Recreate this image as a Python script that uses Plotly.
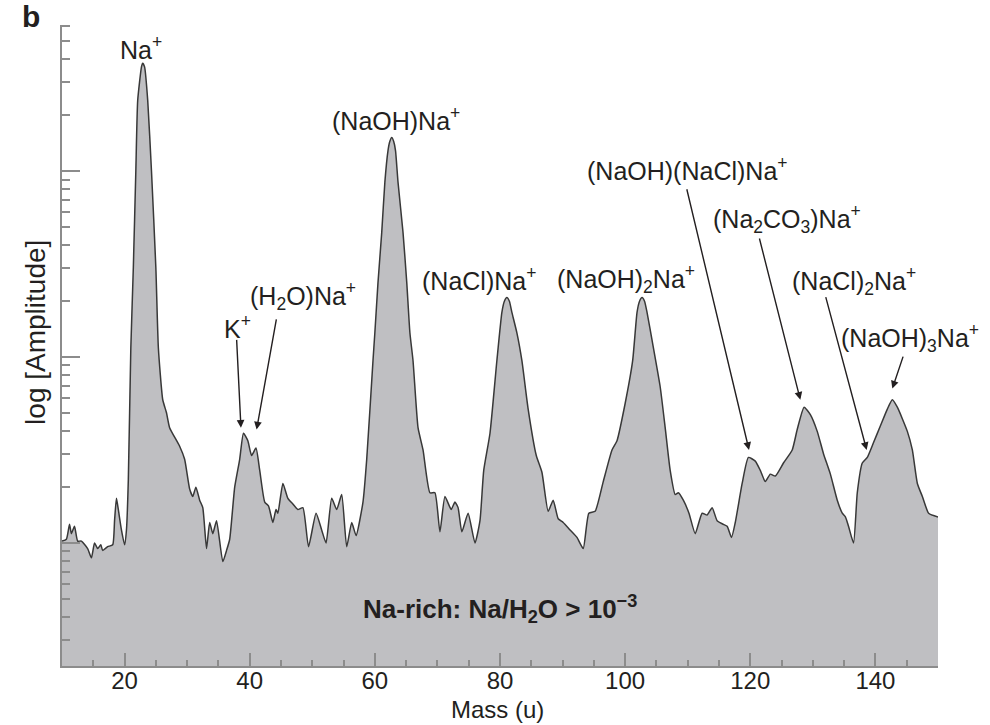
import numpy as np
import plotly.graph_objects as go

# ---------------- data ----------------
mass = [
    10.0, 10.7, 11.2, 11.5, 12.0, 12.5, 13.1, 14.1, 14.7, 15.2,
    15.7, 16.2, 16.5, 17.3, 18.1, 18.4, 18.7, 19.0, 19.5, 20.0,
    20.3, 20.6, 21.0, 21.4, 21.8, 22.1, 22.7, 22.9, 23.2, 23.7,
    24.3, 25.0, 25.4, 26.1, 26.7, 27.2, 28.8, 29.6, 30.4, 30.9,
    31.4, 32.0, 32.5, 33.1, 33.6, 34.1, 34.7, 35.7, 36.3, 36.8,
    37.6, 38.4, 39.0, 39.7, 40.3, 41.0, 41.6, 42.4, 43.0, 43.7,
    44.2, 44.5, 45.3, 46.1, 46.9, 47.7, 48.5, 49.4, 50.6, 51.5,
    52.2, 53.1, 53.9, 54.7, 55.5, 56.3, 57.0, 58.1, 58.7, 59.7,
    60.0, 60.5, 61.1, 61.6, 62.1, 62.4, 62.7, 63.0, 63.3, 63.7,
    64.5, 65.1, 65.6, 66.1, 66.9, 67.7, 68.8, 69.6, 70.4, 71.2,
    72.2, 72.8, 73.3, 73.9, 74.9, 76.0, 76.8, 77.4, 78.4, 79.5,
    80.3, 80.7, 81.1, 81.5, 81.9, 82.7, 83.5, 84.5, 85.8, 86.7,
    87.7, 88.5, 89.3, 90.1, 91.2, 92.3, 93.3, 94.2, 95.2, 96.5,
    97.9, 98.7, 100.0, 101.2, 101.9, 102.3, 102.7, 103.1, 103.5, 104.3,
    105.6, 106.4, 107.2, 108.0, 108.5, 109.3, 110.2, 111.2, 112.3, 113.1,
    113.9, 114.7, 115.7, 116.3, 117.0, 117.6, 118.7, 119.7, 120.8, 121.6,
    122.4, 123.2, 124.0, 125.3, 126.7, 127.5, 128.6, 129.6, 130.7, 131.7,
    132.8, 133.9, 134.7, 135.2, 135.7, 136.5, 137.1, 137.9, 138.7, 139.7,
    140.8, 141.9, 142.7, 143.5, 145.1, 145.9, 146.7, 147.5, 148.5, 150.0,
]

log_amplitude = [
    0.01, 0.02, 0.10, 0.05, 0.09, 0.01, 0.01, -0.03, -0.08, 0.00,
    -0.03, -0.01, -0.04, -0.02, -0.01, 0.12, 0.24, 0.18, 0.07, -0.01,
    0.07, 0.34, 1.05, 1.48, 2.00, 2.38, 2.56, 2.58, 2.56, 2.38,
    2.00, 1.48, 1.05, 0.77, 0.70, 0.62, 0.52, 0.45, 0.29, 0.25,
    0.30, 0.23, 0.19, -0.03, 0.11, 0.05, 0.12, -0.10, -0.04, 0.02,
    0.30, 0.45, 0.59, 0.55, 0.47, 0.51, 0.39, 0.22, 0.20, 0.11,
    0.18, 0.16, 0.32, 0.24, 0.21, 0.18, 0.19, -0.02, 0.16, 0.07,
    0.00, 0.24, 0.18, 0.26, -0.02, 0.11, 0.04, 0.22, 0.45, 0.98,
    1.13, 1.40, 1.67, 1.94, 2.11, 2.16, 2.18, 2.16, 2.11, 1.94,
    1.67, 1.40, 1.13, 0.98, 0.62, 0.50, 0.27, 0.27, 0.06, 0.25,
    0.18, 0.22, 0.19, 0.06, 0.16, 0.00, 0.12, 0.39, 0.59, 0.98,
    1.24, 1.30, 1.32, 1.30, 1.24, 1.13, 0.98, 0.72, 0.47, 0.38,
    0.17, 0.23, 0.13, 0.11, 0.07, 0.03, -0.03, 0.16, 0.17, 0.33,
    0.50, 0.55, 0.75, 0.98, 1.24, 1.30, 1.32, 1.30, 1.24, 1.09,
    0.84, 0.62, 0.39, 0.26, 0.27, 0.23, 0.16, 0.05, 0.16, 0.15,
    0.19, 0.12, 0.10, 0.09, 0.03, 0.11, 0.32, 0.46, 0.44, 0.39,
    0.33, 0.37, 0.36, 0.43, 0.50, 0.61, 0.73, 0.69, 0.60, 0.48,
    0.37, 0.23, 0.16, 0.14, 0.09, 0.00, 0.27, 0.43, 0.46, 0.54,
    0.63, 0.72, 0.77, 0.73, 0.60, 0.50, 0.32, 0.25, 0.16, 0.14,
]

x_tick_values = [20, 40, 60, 80, 100, 120, 140]
x_tick_labels = ["20", "40", "60", "80", "100", "120", "140"]

peak_labels = [
    "Na<sup>+</sup>",
    "K<sup>+</sup>",
    "(H<sub>2</sub>O)Na<sup>+</sup>",
    "(NaOH)Na<sup>+</sup>",
    "(NaCl)Na<sup>+</sup>",
    "(NaOH)<sub>2</sub>Na<sup>+</sup>",
    "(NaOH)(NaCl)Na<sup>+</sup>",
    "(Na<sub>2</sub>CO<sub>3</sub>)Na<sup>+</sup>",
    "(NaCl)<sub>2</sub>Na<sup>+</sup>",
    "(NaOH)<sub>3</sub>Na<sup>+</sup>",
]
# label positions: (mass, log10 amplitude)
label_mass = [22.7, 38.1, 48.5, 63.4, 76.6, 100.2, 109.9, 125.8, 136.5, 145.6]
label_log = [2.66, 1.16, 1.33, 2.28, 1.42, 1.42, 2.01, 1.74, 1.41, 1.10]
# arrows: tail (mass, log) -> head (mass, log); None = no arrow
arrow_tail = [None, (37.9, 1.10), (44.3, 1.21), None, None, None,
              (109.8, 1.91), (121.4, 1.645), (132.0, 1.33), (144.5, 1.01)]
arrow_head = [None, (38.6, 0.62), (41.1, 0.61), None, None, None,
              (119.8, 0.50), (128.0, 0.77), (138.6, 0.50), (142.7, 0.83)]

# ---------------- figure ----------------
FONT = "Liberation Sans, Arial, Helvetica, sans-serif"
TXT = "#231f20"
AXC = "#8c8c8c"

amplitude = 10 ** np.array(log_amplitude)

fig = go.Figure()
fig.add_trace(go.Scatter(
    x=[mass[0], mass[-1]], y=[0.05, 0.05], mode="lines",
    line=dict(width=0, color="rgba(0,0,0,0)"), showlegend=False, hoverinfo="skip"))
fig.add_trace(go.Scatter(
    x=mass, y=amplitude, mode="lines", fill="tonexty", fillcolor="#bfbfc2",
    line=dict(color="#383838", width=1.5, shape="spline", smoothing=0.5),
    showlegend=False))

annotations = []
for txt, mx, ly in zip(peak_labels, label_mass, label_log):
    annotations.append(dict(x=mx, y=ly, xref="x", yref="y", text=txt, showarrow=False,
                            xanchor="center", yanchor="middle",
                            font=dict(family=FONT, size=25, color=TXT)))
for tail, head in zip(arrow_tail, arrow_head):
    if tail is None:
        continue
    annotations.append(dict(x=head[0], y=head[1], xref="x", yref="y",
                            ax=tail[0], ay=tail[1], axref="x", ayref="y",
                            text="", showarrow=True, arrowhead=2, arrowsize=1.1,
                            arrowwidth=1.4, arrowcolor=TXT, standoff=0))
annotations.append(dict(x=80, y=-0.355, xref="x", yref="y",
                        text="<b>Na-rich: Na/H<sub>2</sub>O &gt; 10<sup>−3</sup></b>",
                        showarrow=False, xanchor="center", yanchor="middle",
                        font=dict(family=FONT, size=26, color=TXT)))
annotations.append(dict(x=-0.035, y=1.013, xref="paper", yref="paper",
                        text="<b>b</b>", showarrow=False, xanchor="center", yanchor="middle",
                        font=dict(family=FONT, size=30, color=TXT)))
# axis titles placed as annotations for exact position
annotations.append(dict(x=0.497, y=-0.0686, xref="paper", yref="paper",
                        text="Mass (u)", showarrow=False, xanchor="center", yanchor="middle",
                        borderpad=0,
                        font=dict(family=FONT, size=24, color=TXT)))
annotations.append(dict(x=-0.031, y=0.521, xref="paper", yref="paper",
                        text="log [Amplitude]", textangle=-90, showarrow=False,
                        xanchor="center", yanchor="middle",
                        font=dict(family=FONT, size=28, color=TXT)))

minor_y = [v * 10 ** d for d in (-1, 0, 1, 2) for v in range(2, 10)]
minor_y = [v for v in minor_y if 0.218 <= v <= 610]

fig.update_layout(
    width=990, height=725,
    margin=dict(l=62, r=52, t=25, b=59),
    paper_bgcolor="white", plot_bgcolor="white",
    showlegend=False,
    annotations=annotations,
    xaxis=dict(
        range=[10, 150], showgrid=False, zeroline=False, automargin=False,
        showline=True, linecolor=AXC, linewidth=2,
        tickmode="array", tickvals=x_tick_values, ticktext=x_tick_labels,
        ticks="inside", ticklen=13, tickwidth=2, tickcolor=AXC,
        ticklabelstandoff=-8,
        minor=dict(ticks="inside", ticklen=6, tickwidth=2, tickcolor=AXC,
                   tickmode="linear", tick0=0, dtick=5),
        tickfont=dict(family=FONT, size=24, color=TXT),
    ),
    yaxis=dict(
        type="log", range=[np.log10(0.218), 2.785], showgrid=False, zeroline=False,
        automargin=False,
        showline=True, linecolor=AXC, linewidth=2,
        tickmode="array", tickvals=[1, 10, 100], ticks="inside", ticklen=18,
        tickwidth=2, tickcolor=AXC, showticklabels=False,
        minor=dict(ticks="inside", ticklen=8, tickwidth=2, tickcolor=AXC,
                   tickmode="array", tickvals=minor_y),
    ),
)

fig.write_html("out.html")
